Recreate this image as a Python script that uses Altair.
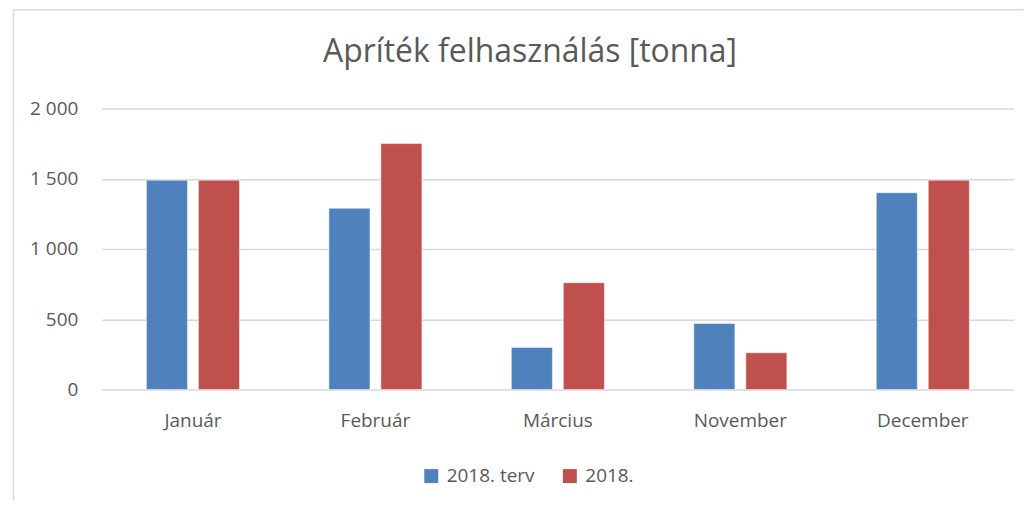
import altair as alt
import pandas as pd

months = ["Január", "Február", "Március", "November", "December"]
series = ["2018. terv", "2018."]
terv = [1490, 1290, 300, 470, 1400]
actual = [1490, 1750, 760, 262, 1490]
colors = ["#4F81BD", "#C0504D"]

rows = []
for m, a, b in zip(months, terv, actual):
    rows.append({"month": m, "series": series[0], "value": a})
    rows.append({"month": m, "series": series[1], "value": b})
df = pd.DataFrame(rows)

FONT = "Open Sans"
TXT = "#595959"

bars = alt.Chart(df).mark_bar(stroke="#ffffff", strokeOpacity=0.5, strokeWidth=1).encode(
    x=alt.X("month:N", sort=months, title=None,
            scale=alt.Scale(paddingInner=0.49, paddingOuter=0.245),
            axis=alt.Axis(labelAngle=0, labelFontSize=19, labelColor=TXT, labelFont=FONT,
                          labelPadding=22, ticks=False, domain=False)),
    xOffset=alt.XOffset("series:N", sort=series, scale=alt.Scale(paddingInner=0.21, paddingOuter=0)),
    y=alt.Y("value:Q", title=None,
            scale=alt.Scale(domain=[0, 2000]),
            axis=alt.Axis(values=[0, 500, 1000, 1500, 2000], labelFontSize=19, labelColor=TXT,
                          labelFont=FONT, labelPadding=24, ticks=False, domain=False,
                          gridColor="#D9D9D9", gridWidth=1.5,
                          labelExpr="replace(format(datum.value, ','), ',', ' ')")),
    color=alt.Color("series:N", sort=series, scale=alt.Scale(domain=series, range=colors),
                    legend=alt.Legend(title=None, orient="none", direction="horizontal",
                                      legendX=321, legendY=359, labelFontSize=19, labelColor=TXT,
                                      labelFont=FONT, symbolType="square", symbolSize=196,
                                      symbolStrokeWidth=0, columnPadding=25, labelOffset=6)),
)

base = alt.Chart(pd.DataFrame({"a": [0]}))
frame_left = base.mark_rule(stroke="#D9D9D9", strokeWidth=1.5).encode(
    x=alt.value(-88.5), y=alt.value(-99), y2=alt.value(393)
)
frame_top = base.mark_rule(stroke="#D9D9D9", strokeWidth=1.5).encode(
    x=alt.value(-88.5), x2=alt.value(924.5), y=alt.value(-99)
)

chart = alt.layer(frame_left, frame_top, bars).properties(
    width=915, height=282,
    title=alt.TitleParams("Apríték felhasználás [tonna]", fontSize=32, font=FONT,
                          fontWeight="normal", color=TXT, anchor="middle", offset=-60, dx=-28),
    padding={"left": 4, "top": 0, "right": 0, "bottom": 0},
).configure_view(stroke=None)

chart.save("out.html", embed_options={"renderer": "svg", "actions": False})
